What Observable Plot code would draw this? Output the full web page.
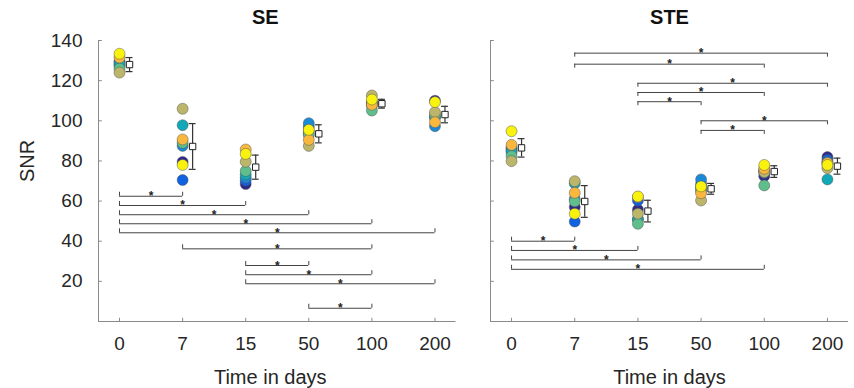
<!DOCTYPE html>
<html><head><meta charset="utf-8">
<script src="https://cdn.jsdelivr.net/npm/d3@7"></script>
<script src="https://cdn.jsdelivr.net/npm/@observablehq/plot@0.6"></script>
<style>
body{margin:0;background:#fff;}
#wrap{display:flex;width:854px;height:388px;overflow:hidden;}
svg{display:block;}
</style></head><body><div id="wrap"></div>
<script>
// ---------- data ----------
const categories = ["0", "7", "15", "50", "100", "200"];
const yTicks = [20, 40, 60, 80, 100, 120, 140];
const panelTitles = ["SE", "STE"];
const xLabel = "Time in days";
const yLabel = "SNR";
// subjects (parula-like colours), drawn in this order
const subjectColors = ["#2e2a8c", "#0f62e0", "#1b8ad6", "#12a8b8", "#5fbf8c", "#bbb66a", "#f9b73e", "#f8f20e"];

// SE: one row per subject, one value per time point
const seSNR = [
  [127.5, 79.5, 68.5, 95.0, 109.0, 110.0],
  [129.5, 70.5, 70.3, 97.0, 109.0, 101.5],
  [129.0, 87.5, 71.7, 98.8, 108.5, 97.3],
  [128.0, 97.8, 73.2, 93.5, 107.5, 102.0],
  [126.0, 89.0, 75.0, 93.0, 105.1, 103.0],
  [124.0, 106.0, 79.6, 87.5, 112.6, 104.3],
  [131.5, 90.7, 85.7, 90.5, 108.0, 99.3],
  [133.4, 78.0, 83.5, 95.5, 110.6, 109.3]
];
const seMean = [128.0, 87.2, 76.9, 93.5, 108.5, 103.1];
const seErr = [3.5, 11.4, 6.0, 4.5, 2.2, 4.1];

// STE
const steSNR = [
  [85.0, 57.0, 55.7, 67.0, 72.4, 81.9],
  [86.0, 49.8, 60.3, 68.5, 74.0, 80.5],
  [86.5, 61.0, 51.0, 70.8, 75.0, 79.5],
  [84.5, 68.8, 50.8, 66.0, 75.5, 70.8],
  [82.4, 59.9, 48.7, 65.0, 67.8, 78.5],
  [79.9, 69.9, 53.7, 60.3, 74.4, 76.4],
  [88.0, 64.1, 62.0, 63.9, 76.1, 79.0],
  [94.8, 53.7, 62.3, 67.3, 78.0, 78.0]
];
const steMean = [86.5, 59.8, 55.0, 66.1, 74.7, 77.4];
const steErr = [4.6, 7.9, 5.4, 2.7, 2.9, 4.0];

// significance brackets: [from time index, to time index, SNR level]
const seBracketsUp = [
  [0, 1, 62.4], [0, 2, 57.8], [0, 3, 53.2], [0, 4, 48.7], [0, 5, 44.2],
  [1, 4, 36.2], [2, 3, 27.9], [2, 4, 23.3], [2, 5, 18.8], [3, 4, 6.6]
];
const seBracketsDown = [];
const steBracketsUp = [[0, 1, 40.0], [0, 2, 35.4], [0, 3, 30.7], [0, 4, 26.0]];
const steBracketsDown = [
  [1, 5, 133.7], [1, 4, 128.2], [2, 5, 118.7], [2, 4, 114.1], [2, 3, 109.5],
  [3, 5, 100.0], [3, 4, 95.2]
];

// ---------- drawing ----------
const FONT = '"Liberation Sans", Arial, Helvetica, sans-serif';
const axisColor = "#8a8a8a";
const xPad = 1 / 3;
const xMin = -xPad, xMax = categories.length - 1 + xPad;
const yMax = 140;
const yLabelAt = 80;

function panel({width, marginLeft, marginRight, title, titleDx, xlabelDx, values, mean, err, up, down, showY}) {
  const idx = d3.range(categories.length);
  const pts = [];
  values.forEach((row, s) => row.forEach((v, i) => pts.push({i, v, c: subjectColors[s]})));
  const caps = idx.flatMap(i => [{i, y: mean[i] - err[i]}, {i, y: mean[i] + err[i]}]);
  const brackets = [...up, ...down];
  const ends = [
    ...up.flatMap(([a, b, y]) => [{x: a, y, h: 2}, {x: b, y, h: 2}]),
    ...down.flatMap(([a, b, y]) => [{x: a, y, h: -2}, {x: b, y, h: -2}])
  ];
  const capW = 0.055;
  const marks = [
    // axes
    Plot.ruleX([xMin], {y1: 0, y2: yMax, stroke: axisColor, strokeWidth: 1}),
    Plot.ruleY([0], {x1: xMin, x2: xMax, stroke: axisColor, strokeWidth: 1}),
    Plot.ruleY(yTicks, {x1: xMin, x2: xMin + 0.06, stroke: axisColor}),
    Plot.ruleX(idx, {y1: 0, y2: 1.6, stroke: axisColor}),
    Plot.axisX({ticks: idx, tickFormat: i => categories[i], tickSize: 0, tickPadding: 15, label: null, fontSize: 19}),
    // brackets
    Plot.ruleY(brackets, {x1: d => d[0], x2: d => d[1], y: d => d[2], stroke: "#444", strokeWidth: 1}),
    Plot.ruleX(ends, {x: "x", y1: "y", y2: d => d.y + d.h, stroke: "#444", strokeWidth: 1}),
    Plot.text(brackets, {x: d => (d[0] + d[1]) / 2, y: d => d[2], text: () => "*", lineAnchor: "bottom", dy: 4, fontSize: 12, fontWeight: "bold", fill: "#222"}),
    // subjects
    Plot.dot(pts, {x: "i", y: "v", fill: "c", r: 5.5, stroke: "#555", strokeWidth: 0.6, strokeOpacity: 0.8}),
    // mean +- error
    Plot.ruleX(idx, {x: i => i, y1: i => mean[i] - err[i], y2: i => mean[i] + err[i], dx: 10, stroke: "#333", strokeWidth: 1.2}),
    Plot.ruleY(caps, {x1: d => d.i - capW, x2: d => d.i + capW, y: "y", dx: 10, stroke: "#333", strokeWidth: 1.2}),
    Plot.dot(idx, {x: i => i, y: i => mean[i], symbol: "square", r: 3.6, dx: 10, fill: "white", stroke: "#222", strokeWidth: 1}),
    // titles
    Plot.text([title], {frameAnchor: "top", dx: titleDx, dy: -31, fontSize: 20, fontWeight: "bold", fill: "#111"}),
    Plot.text([xLabel], {frameAnchor: "bottom", dx: xlabelDx, dy: 62, fontSize: 20, fill: "#262626"})
  ];
  if (showY) {
    marks.push(Plot.axisY({ticks: yTicks, tickSize: 0, tickPadding: 16, label: null, fontSize: 19}));
    marks.push(Plot.text([yLabel], {x: xMin, y: yLabelAt, dx: -71, rotate: -90, fontSize: 20, fill: "#262626"}));
  }
  return Plot.plot({
    width, height: 388,
    marginTop: 40, marginBottom: 67, marginLeft, marginRight,
    x: {type: "linear", domain: [xMin, xMax]},
    y: {domain: [0, yMax], axis: showY ? undefined : null},
    color: {type: "identity"},
    style: {fontFamily: FONT, fontSize: "19px", color: "#262626", background: "white", overflow: "visible"},
    marks
  });
}

const wrap = document.getElementById("wrap");
wrap.appendChild(panel({
  width: 474, marginLeft: 98, marginRight: 18.5, title: panelTitles[0], titleDx: -12, xlabelDx: -7,
  values: seSNR, mean: seMean, err: seErr, up: seBracketsUp, down: seBracketsDown, showY: true
}));
wrap.appendChild(panel({
  width: 380, marginLeft: 16, marginRight: 6, title: panelTitles[1], titleDx: 0, xlabelDx: 0,
  values: steSNR, mean: steMean, err: steErr, up: steBracketsUp, down: steBracketsDown, showY: false
}));
</script></body></html>
